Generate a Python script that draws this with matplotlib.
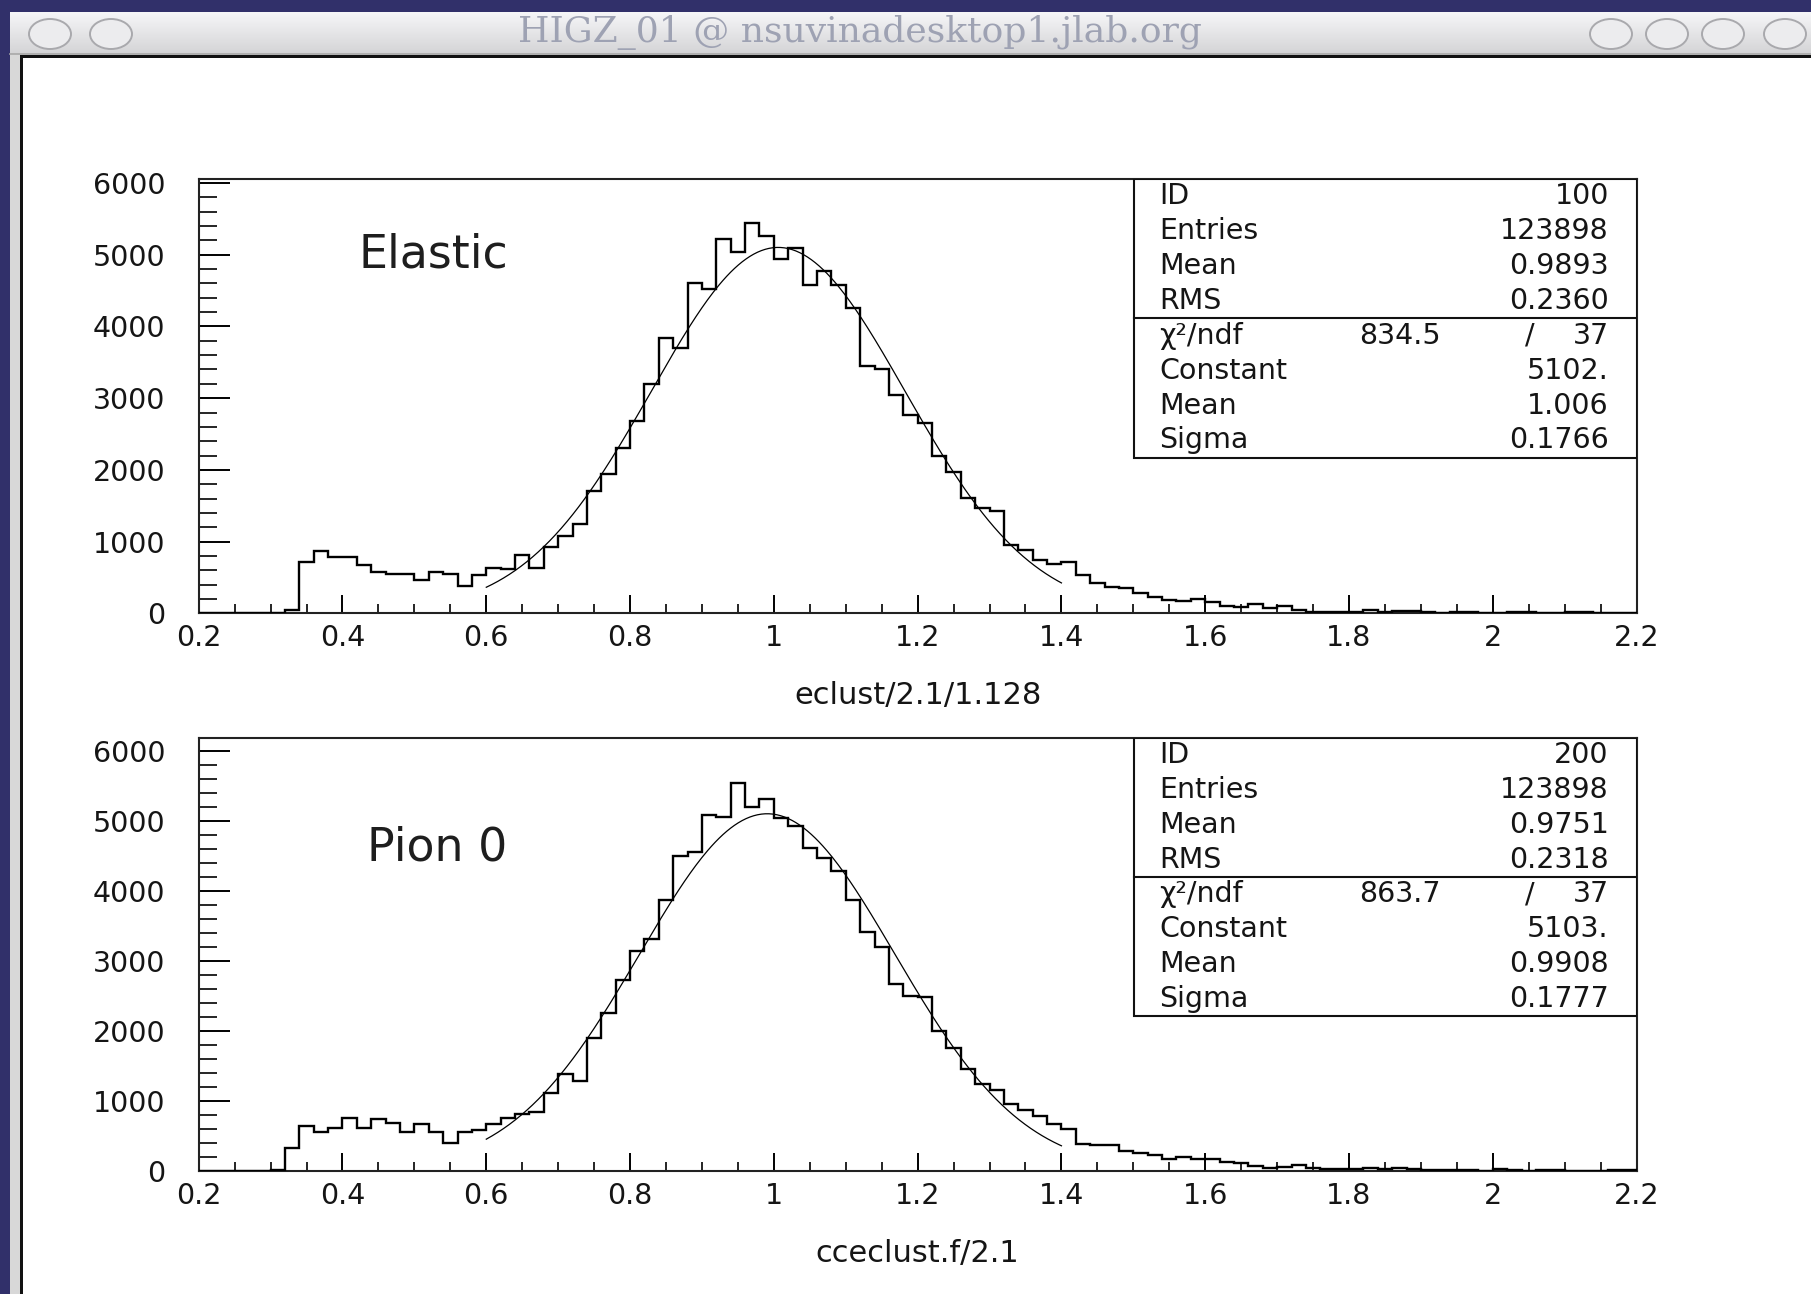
import numpy as np
import matplotlib.pyplot as plt
from matplotlib.patches import Rectangle, Ellipse
from matplotlib.colors import LinearSegmentedColormap
from matplotlib.ticker import MultipleLocator, FixedLocator

W, H = 1811, 1294

# both histograms: 100 bins between 0.2 and 2.2
bin_lo, bin_hi, n_bins = 0.2, 2.2, 100

elastic_counts = [
    0, 0, 0, 0, 0, 0, 45, 720, 868, 790,
    790, 669, 576, 543, 543, 464, 576, 543, 381, 530,
    636, 613, 808, 636, 929, 1078, 1240, 1705, 1946, 2308,
    2676, 3200, 3835, 3695, 4610, 4525, 5215, 5045, 5440, 5266,
    4935, 5097, 4580, 4780, 4575, 4260, 3455, 3408, 3048, 2770,
    2655, 2188, 1970, 1608, 1468, 1420, 955, 887, 746, 690,
    712, 538, 420, 370, 350, 290, 230, 183, 178, 205,
    160, 108, 86, 132, 80, 104, 50, 23, 23, 23,
    23, 46, 23, 37, 30, 20, 10, 20, 20, 8,
    6, 15, 12, 4, 4, 15, 12, 3, 2, 2,
]

pion_counts = [
    0, 0, 0, 0, 0, 18, 325, 645, 550, 620,
    762, 620, 740, 680, 550, 678, 550, 406, 550, 592,
    672, 764, 817, 843, 1114, 1390, 1290, 1905, 2261, 2735,
    3137, 3316, 3875, 4500, 4552, 5081, 5055, 5548, 5202, 5311,
    5038, 4932, 4620, 4477, 4283, 3870, 3410, 3198, 2677, 2497,
    2480, 1995, 1760, 1450, 1236, 1150, 952, 874, 786, 668,
    595, 380, 375, 370, 284, 251, 222, 175, 204, 175,
    166, 133, 109, 71, 47, 57, 80, 38, 24, 33,
    24, 47, 24, 45, 24, 14, 8, 20, 20, 6,
    24, 20, 6, 14, 14, 4, 4, 4, 14, 14,
]

x_ticks = [0.2, 0.4, 0.6, 0.8, 1.0, 1.2, 1.4, 1.6, 1.8, 2.0, 2.2]
x_tick_labels = ["0.2", "0.4", "0.6", "0.8", "1", "1.2", "1.4", "1.6", "1.8", "2", "2.2"]
y_ticks = [0, 1000, 2000, 3000, 4000, 5000, 6000]

stats_names = ["ID", "Entries", "Mean", "RMS"]
elastic_stats = ["100", "123898", "0.9893", "0.2360"]
pion_stats = ["200", "123898", "0.9751", "0.2318"]

fit_names = ["Constant", "Mean", "Sigma"]
fit_range = (0.6, 1.4)
elastic_fit = [5102.0, 1.006, 0.1766]
elastic_fit_text = ["5102.", "1.006", "0.1766"]
elastic_chi2 = ["834.5", "37"]
pion_fit = [5103.0, 0.9908, 0.1777]
pion_fit_text = ["5103.", "0.9908", "0.1777"]
pion_chi2 = ["863.7", "37"]

TXT = "#151515"
FONT = "DejaVu Sans"


def draw_panel(ax, counts, ymax, tag, tag_xy, xlabel, stats, fit, fit_text, chi2):
    edges = np.linspace(bin_lo, bin_hi, n_bins + 1)
    ax.stairs(counts, edges, color="black", lw=1.7, zorder=3)

    # gaussian fit drawn over its fit range
    xf = np.linspace(fit_range[0], fit_range[1], 300)
    yf = fit[0] * np.exp(-0.5 * ((xf - fit[1]) / fit[2]) ** 2)
    ax.plot(xf, yf, color="black", lw=0.9, zorder=4)

    ax.set_xlim(bin_lo, bin_hi)
    ax.set_ylim(0, ymax)
    for side in ("top", "right", "bottom", "left"):
        ax.spines[side].set_linewidth(1.5)
        ax.spines[side].set_color("#222222")

    ax.xaxis.set_major_locator(FixedLocator(x_ticks))
    ax.set_xticklabels(x_tick_labels)
    ax.xaxis.set_minor_locator(MultipleLocator(0.05))
    ax.yaxis.set_major_locator(FixedLocator(y_ticks))
    ax.set_yticklabels([str(v) for v in y_ticks])
    ax.yaxis.set_minor_locator(MultipleLocator(200))
    ax.tick_params(axis="x", which="major", direction="in", length=13, width=1.4,
                   pad=8, labelsize=20.5, labelcolor=TXT, top=False)
    ax.tick_params(axis="x", which="minor", direction="in", length=6.5, width=1.2, top=False)
    ax.tick_params(axis="y", which="major", direction="in", length=22, width=1.4,
                   pad=24, labelsize=20.5, labelcolor=TXT, right=False)
    ax.tick_params(axis="y", which="minor", direction="in", length=13, width=1.2, right=False)
    for lab in ax.get_xticklabels() + ax.get_yticklabels():
        lab.set_family(FONT)

    ax.set_xlabel(xlabel, fontsize=22, color=TXT, family=FONT)
    ax.xaxis.set_label_coords(0.5, -0.19)
    ax.xaxis.label.set_va("center")

    ax.text(tag_xy[0], tag_xy[1], tag, transform=ax.transAxes, fontsize=33,
            color="#1e1e1e", family=FONT, ha="center", va="center")

    # statistics box
    bx0, by0, bsep = 0.6505, 0.357, 0.679
    ax.add_patch(Rectangle((bx0, by0), 1 - bx0, 1 - by0, transform=ax.transAxes,
                           facecolor="white", edgecolor="#111111", lw=1.5, zorder=5))
    ax.plot([bx0, 1], [bsep, bsep], transform=ax.transAxes, color="#111111",
            lw=1.5, zorder=6)
    row_h = (1 - bsep) / 4
    xl, xr = 0.668, 0.9807
    kw = dict(transform=ax.transAxes, fontsize=20.5, color=TXT, family=FONT,
              va="center", zorder=7)
    for i, (name, val) in enumerate(zip(stats_names, stats)):
        yy = 1 - row_h * (i + 0.5)
        ax.text(xl, yy, name, ha="left", **kw)
        ax.text(xr, yy, val, ha="right", **kw)
    rows2 = ["χ²/ndf"] + fit_names
    for i, name in enumerate(rows2):
        yy = bsep - row_h * (i + 0.5)
        ax.text(xl, yy, name, ha="left", **kw)
        if i == 0:
            ax.text(0.8635, yy, chi2[0], ha="right", **kw)
            ax.text(0.926, yy, "/", ha="center", **kw)
            ax.text(xr, yy, chi2[1], ha="right", **kw)
        else:
            ax.text(xr, yy, fit_text[i - 1], ha="right", **kw)


fig = plt.figure(figsize=(W / 100, H / 100), dpi=100)
fig.patch.set_facecolor("#31306a")

# window chrome, drawn in pixel coordinates
bg = fig.add_axes([0, 0, 1, 1])
bg.set_xlim(0, W)
bg.set_ylim(H, 0)
bg.axis("off")
bg.add_patch(Rectangle((10, 12), W, H, facecolor="#d8d8d8", edgecolor="none"))
grad = np.linspace(0, 1, 64).reshape(-1, 1)
bar_cmap = LinearSegmentedColormap.from_list("bar", ["#f6f6f8", "#d4d4d6"])
bg.imshow(grad, cmap=bar_cmap, extent=[10, W, 54, 12], aspect="auto", zorder=1)
bg.plot([10, W], [54, 54], color="#a8a8a8", lw=1.2, zorder=2)
bg.add_patch(Rectangle((20, 55), W, H, facecolor="#111111", edgecolor="none", zorder=2))
bg.add_patch(Rectangle((23, 58), W, H, facecolor="white", edgecolor="none", zorder=3))
for cx in (50, 111, 1611, 1667, 1723, 1785):
    bg.add_patch(Ellipse((cx, 34), 42, 30, facecolor="#ececee", edgecolor="#a9a9ad",
                         lw=1.4, zorder=4))
bg.text(860, 33, "HIGZ_01 @ nsuvinadesktop1.jlab.org", fontsize=26,
        family="DejaVu Serif", color="#9ea2b3", ha="center", va="center", zorder=5)

ax_top = fig.add_axes([198.7 / W, 1 - 613.3 / H, 1437.9 / W, 434.3 / H])
ax_bot = fig.add_axes([198.7 / W, 1 - 1171 / H, 1437.9 / W, 433 / H])
for a in (ax_top, ax_bot):
    a.set_facecolor("white")

draw_panel(ax_top, elastic_counts, 6056, "Elastic", (0.163, 0.825), "eclust/2.1/1.128",
           elastic_stats, elastic_fit, elastic_fit_text, elastic_chi2)
draw_panel(ax_bot, pion_counts, 6185, "Pion 0", (0.1655, 0.746), "cceclust.f/2.1",
           pion_stats, pion_fit, pion_fit_text, pion_chi2)

fig.savefig("out.png", dpi=100, facecolor=fig.get_facecolor())
